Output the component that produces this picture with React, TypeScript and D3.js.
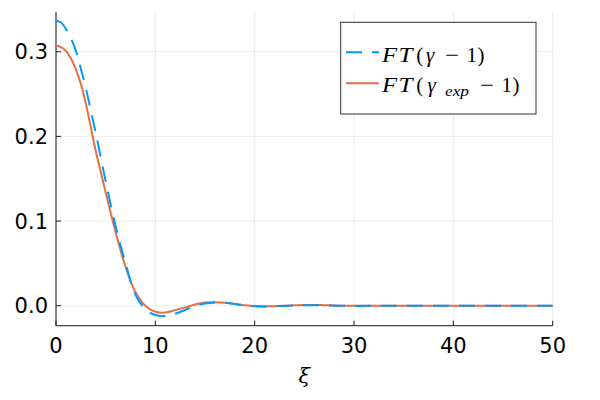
import * as React from "react";
import * as d3 from "d3";

// xi values and the two transformed curves
const xi = [0, 0.5, 1, 1.5, 2, 2.5, 3, 3.5, 4, 5, 6, 7, 8, 9, 10, 11, 12, 13, 14, 15, 16, 17, 18, 19, 20, 21, 22, 23, 24, 25, 26, 27, 28, 29, 30, 32, 35, 40, 45, 50];
const ftGamma = [0.3366, 0.3345, 0.327, 0.316, 0.301, 0.28, 0.257, 0.231, 0.204, 0.147, 0.094, 0.05, 0.013, -0.004, -0.011, -0.0122, -0.0095, -0.005, -0.0005, 0.0025, 0.0038, 0.0035, 0.002, 0.0005, -0.0005, -0.0008, -0.0007, -0.0002, 0.0003, 0.0006, 0.0006, 0.0004, 0.0001, -0.0001, -0.0002, -0.0001, 0.0001, 0, 0, 0];
const ftGammaExp = [0.307, 0.3055, 0.301, 0.292, 0.279, 0.262, 0.239, 0.211, 0.183, 0.134, 0.087, 0.046, 0.016, 0.0, -0.0072, -0.008, -0.0052, -0.002, 0.0015, 0.0038, 0.0042, 0.0035, 0.002, 0.0005, -0.0004, -0.0006, -0.0005, 0, 0.0005, 0.0009, 0.0009, 0.0006, 0.0003, 0, -0.0001, -0.0001, 0.0001, 0, 0, 0];
const xTicks = [0, 10, 20, 30, 40, 50];
const yTicks = [0, 0.1, 0.2, 0.3];

const blue = "#009AFA";
const orange = "#E26F46";

const mathFont = "'Liberation Serif', 'DejaVu Serif', serif";

// one glyph of the LaTeX-ish legend labels
const G = (p: { x: number; y: number; w?: number; it?: boolean; size?: number; children: any }) => (
  <text
    x={p.x}
    y={p.y}
    fontFamily={mathFont}
    fontSize={p.size || 21}
    fontStyle={p.it ? "italic" : "normal"}
    textLength={p.w}
    lengthAdjust={p.w ? "spacingAndGlyphs" : undefined}
    fill="#000"
  >
    {p.children}
  </text>
);

const App = () => {
  const left = 56;
  const right = 552.7;
  const top = 12;
  const bottom = 325.7;

  const x = d3.scaleLinear().domain([0, 50]).range([left, right]);
  const y = d3.scaleLinear().domain([-0.0236, 0.3469]).range([bottom, top]);

  const line = (vals: number[]) =>
    d3
      .line<number>()
      .x((d, i) => x(xi[i]))
      .y((d) => y(d))
      .curve(d3.curveCatmullRom.alpha(0.5))(vals) || "";

  const tickFont = "'DejaVu Sans', sans-serif";

  return (
    <svg width={600} height={400} style={{ position: "absolute", left: 0, top: 0 }}>
      <rect width={600} height={400} fill="#fff" />
      {/* grid */}
      {xTicks.map((t) => (
        <line key={"gx" + t} x1={x(t)} x2={x(t)} y1={top} y2={bottom} stroke="#000" strokeOpacity={0.1} strokeWidth={0.8} />
      ))}
      {yTicks.map((t) => (
        <line key={"gy" + t} x1={left} x2={right} y1={y(t)} y2={y(t)} stroke="#000" strokeOpacity={0.1} strokeWidth={0.8} />
      ))}
      {/* axes */}
      <line x1={left} x2={right} y1={bottom} y2={bottom} stroke="#444" strokeWidth={1.3} />
      <line x1={left} x2={left} y1={top} y2={bottom} stroke="#444" strokeWidth={1.3} />
      {xTicks.map((t) => (
        <g key={"xt" + t}>
          <line x1={x(t)} x2={x(t)} y1={bottom} y2={bottom - 5} stroke="#222" strokeWidth={1} />
          <text x={x(t)} y={352.5} textAnchor="middle" fontFamily={tickFont} fontSize={21} fill="#000">
            {t}
          </text>
        </g>
      ))}
      {yTicks.map((t) => (
        <g key={"yt" + t}>
          <line x1={left} x2={left + 5} y1={y(t)} y2={y(t)} stroke="#222" strokeWidth={1} />
          <text x={48} y={y(t)} dy="0.36em" textAnchor="end" fontFamily={tickFont} fontSize={21} fill="#000">
            {t.toFixed(1)}
          </text>
        </g>
      ))}
      {/* curves */}
      <path d={line(ftGammaExp)} fill="none" stroke={orange} strokeWidth={2} />
      <path d={line(ftGamma)} fill="none" stroke={blue} strokeWidth={2} strokeDasharray="16,10" />
      {/* x label */}
      <text x={(left + right) / 2} y={383} textAnchor="middle" fontFamily="'DejaVu Serif', serif" fontStyle="italic" fontSize={21}>
        ξ
      </text>
      {/* legend */}
      <rect x={340.7} y={22.3} width={195.3} height={91.7} fill="#fff" stroke="#333" strokeWidth={1} />
      <line x1={346} x2={379} y1={52.3} y2={52.3} stroke={blue} strokeWidth={2} strokeDasharray="16,10" />
      <line x1={346} x2={379} y1={83.3} y2={83.3} stroke={orange} strokeWidth={2} />
      <G x={382} y={61.7} w={15} it>F</G>
      <G x={398.5} y={61.7} w={14} it>T</G>
      <G x={416.3} y={61.7}>(</G>
      <G x={426} y={61.7} it>γ</G>
      <G x={445} y={61.7} w={14}>−</G>
      <G x={466.5} y={61.7}>1</G>
      <G x={477.5} y={61.7}>)</G>
      <G x={382} y={91.7} w={15} it>F</G>
      <G x={398.5} y={91.7} w={14} it>T</G>
      <G x={416.3} y={91.7}>(</G>
      <G x={427.5} y={91.7} it>γ</G>
      <G x={445} y={96} w={24} it size={15}>exp</G>
      <G x={480} y={91.7} w={14}>−</G>
      <G x={501.5} y={91.7}>1</G>
      <G x={512.5} y={91.7}>)</G>
    </svg>
  );
};

export default App;
